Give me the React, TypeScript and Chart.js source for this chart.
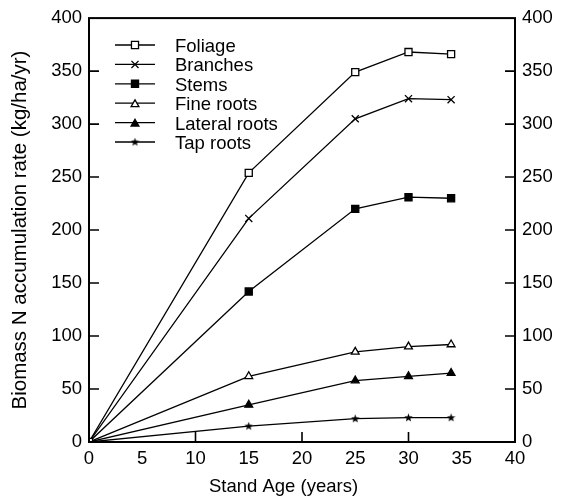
import React, { useEffect, useRef } from "react";
import { Chart, registerables } from "chart.js";

Chart.register(...registerables);

const ages = [0, 15, 25, 30, 34];
const foliage = [0, 254, 349, 368, 366];
const branches = [0, 211, 305, 324, 323];
const stems = [0, 142, 220, 231, 230];
const fineRoots = [0, 62, 85, 90, 92];
const lateralRoots = [0, 35, 58, 62, 65];
const tapRoots = [0, 15, 22, 23, 23];
const seriesLabels = ["Foliage", "Branches", "Stems", "Fine roots", "Lateral roots", "Tap roots"];
const xTickMarks = [10, 20, 30];
const yTickMarks = [50, 100, 150, 200, 250, 300, 350];

const FONT = "'Liberation Sans', Arial, Helvetica, sans-serif";

function makeStar(): HTMLCanvasElement {
  const c = document.createElement("canvas");
  c.width = 9;
  c.height = 9;
  const g = c.getContext("2d")!;
  g.fillStyle = "#000";
  g.beginPath();
  for (let i = 0; i < 10; i++) {
    const r = i % 2 === 0 ? 4.4 : 1.9;
    const a = -Math.PI / 2 + (i * Math.PI) / 5;
    const px = 4.5 + r * Math.cos(a);
    const py = 4.7 + r * Math.sin(a);
    if (i === 0) g.moveTo(px, py);
    else g.lineTo(px, py);
  }
  g.closePath();
  g.fill();
  return c;
}

function drawPointLegend(ctx: CanvasRenderingContext2D, style: any, r: number, x: number, y: number, bg: string) {
  ctx.save();
  ctx.fillStyle = bg;
  ctx.strokeStyle = "#000";
  ctx.lineWidth = 1.3;
  if (style === "rect") {
    const s = Math.SQRT1_2 * r;
    ctx.beginPath();
    ctx.rect(x - s, y - s, 2 * s, 2 * s);
    ctx.fill();
    ctx.stroke();
  } else if (style === "crossRot") {
    const s = Math.SQRT1_2 * r;
    ctx.beginPath();
    ctx.moveTo(x - s, y - s);
    ctx.lineTo(x + s, y + s);
    ctx.moveTo(x - s, y + s);
    ctx.lineTo(x + s, y - s);
    ctx.stroke();
  } else if (style === "triangle") {
    ctx.beginPath();
    for (let k = 0; k < 3; k++) {
      const a = -Math.PI / 2 + (k * 2 * Math.PI) / 3;
      const px = x + Math.cos(a) * r;
      const py = y + Math.sin(a) * r + r * 0.25;
      if (k === 0) ctx.moveTo(px, py);
      else ctx.lineTo(px, py);
    }
    ctx.closePath();
    ctx.fill();
    ctx.stroke();
  } else if (style instanceof HTMLCanvasElement) {
    ctx.drawImage(style, x - style.width / 2, y - style.height / 2);
  }
  ctx.restore();
}

export default function App() {
  const ref = useRef<HTMLCanvasElement | null>(null);

  useEffect(() => {
    document.body.style.margin = "0";
    const star = makeStar();
    const values = [foliage, branches, stems, fineRoots, lateralRoots, tapRoots];
    const styles: any[] = [
      { pointStyle: "rect", radius: 5, bg: "#fff" },
      { pointStyle: "crossRot", radius: 5, bg: "#000" },
      { pointStyle: "rect", radius: 5, bg: "#000" },
      { pointStyle: "triangle", radius: 4.5, bg: "#fff" },
      { pointStyle: "triangle", radius: 4.5, bg: "#000" },
      { pointStyle: star, radius: 4, bg: "#000" },
    ];
    const datasets = values.map((v, i) => ({
      label: seriesLabels[i],
      data: ages.map((a, j) => ({ x: a, y: v[j] })),
      borderColor: "#000",
      borderWidth: 1.3,
      backgroundColor: styles[i].bg,
      pointStyle: styles[i].pointStyle,
      pointRadius: (ctx: any) => (i > 0 && ctx.dataIndex === 0 ? 0 : styles[i].radius),
      pointBorderWidth: 1.3,
      pointBorderColor: "#000",
      pointBackgroundColor: styles[i].bg,
      tension: 0,
    }));

    const framePlugin = {
      id: "frame",
      afterDatasetsDraw(chart: any) {
        const { ctx, chartArea } = chart;
        const xs = chart.scales.x;
        const yl = chart.scales.y;
        const yr = chart.scales.y2;
        ctx.save();
        ctx.strokeStyle = "#000";
        ctx.lineWidth = 1.6;
        ctx.beginPath();
        for (const t of xTickMarks) {
          const px = xs.getPixelForValue(t);
          ctx.moveTo(px, chartArea.bottom);
          ctx.lineTo(px, chartArea.bottom - 10);
        }
        for (const t of yTickMarks) {
          const pl = yl.getPixelForValue(t);
          ctx.moveTo(chartArea.left, pl);
          ctx.lineTo(chartArea.left + 10, pl);
          const pr = yr.getPixelForValue(t);
          ctx.moveTo(chartArea.right, pr);
          ctx.lineTo(chartArea.right - 10, pr);
        }
        ctx.stroke();
        ctx.lineWidth = 2;
        ctx.strokeRect(chartArea.left, chartArea.top, chartArea.right - chartArea.left, chartArea.bottom - chartArea.top);
        ctx.restore();
      },
      afterDraw(chart: any) {
        const { ctx } = chart;
        ctx.save();
        chart.data.datasets.forEach((ds: any, i: number) => {
          const y = 45 + i * 19.4;
          ctx.strokeStyle = "#000";
          ctx.lineWidth = 1.3;
          ctx.beginPath();
          ctx.moveTo(115, y);
          ctx.lineTo(155, y);
          ctx.stroke();
          const st = styles[i];
          drawPointLegend(ctx, st.pointStyle, st.radius, 135, y, st.bg);
          ctx.fillStyle = "#000";
          ctx.font = `18.5px ${FONT}`;
          ctx.textBaseline = "middle";
          ctx.textAlign = "left";
          ctx.fillText(ds.label, 175, y + 2);
        });
        ctx.restore();
      },
    };

    const tickFont = { family: FONT, size: 18.5 };
    const chart = new Chart(ref.current!, {
      type: "line",
      data: { datasets: datasets as any },
      options: {
        animation: false,
        responsive: false,
        layout: { padding: { top: 15, left: 0, right: 0, bottom: 0 } },
        plugins: {
          legend: { display: false },
          tooltip: { enabled: false },
          title: {
            display: true,
            position: "bottom",
            text: "Stand Age (years)",
            font: { family: FONT, size: 18.5, weight: "normal" },
            color: "#000",
            padding: { top: 0, bottom: 2 },
          },
        },
        scales: {
          x: {
            type: "linear",
            min: 0,
            max: 40,
            ticks: { stepSize: 5, font: tickFont, color: "#000", padding: 6, maxRotation: 0 },
            grid: { display: false, drawTicks: false },
            border: { display: false },
            afterFit: (s: any) => {
              s.height = 500 - 442 - (18.5 * 1.2 + 2);
            },
          },
          y: {
            position: "left",
            min: 0,
            max: 400,
            ticks: { stepSize: 50, font: tickFont, color: "#000", padding: 7 },
            grid: { display: false, drawTicks: false },
            border: { display: false },
            title: {
              display: true,
              text: "Biomass N accumulation rate (kg/ha/yr)",
              font: { family: FONT, size: 20.5 },
              color: "#000",
              padding: { top: 8, bottom: 0 },
            },
            afterFit: (s: any) => {
              s.width = 89;
            },
          },
          y2: {
            position: "right",
            min: 0,
            max: 400,
            ticks: { stepSize: 50, font: tickFont, color: "#000", padding: 7 },
            grid: { display: false, drawTicks: false },
            border: { display: false },
            afterFit: (s: any) => {
              s.width = 52;
            },
          },
        },
      } as any,
      plugins: [framePlugin],
    });
    return () => chart.destroy();
  }, []);

  return <canvas ref={ref} width={567} height={500} style={{ display: "block", width: 567, height: 500 }} />;
}
